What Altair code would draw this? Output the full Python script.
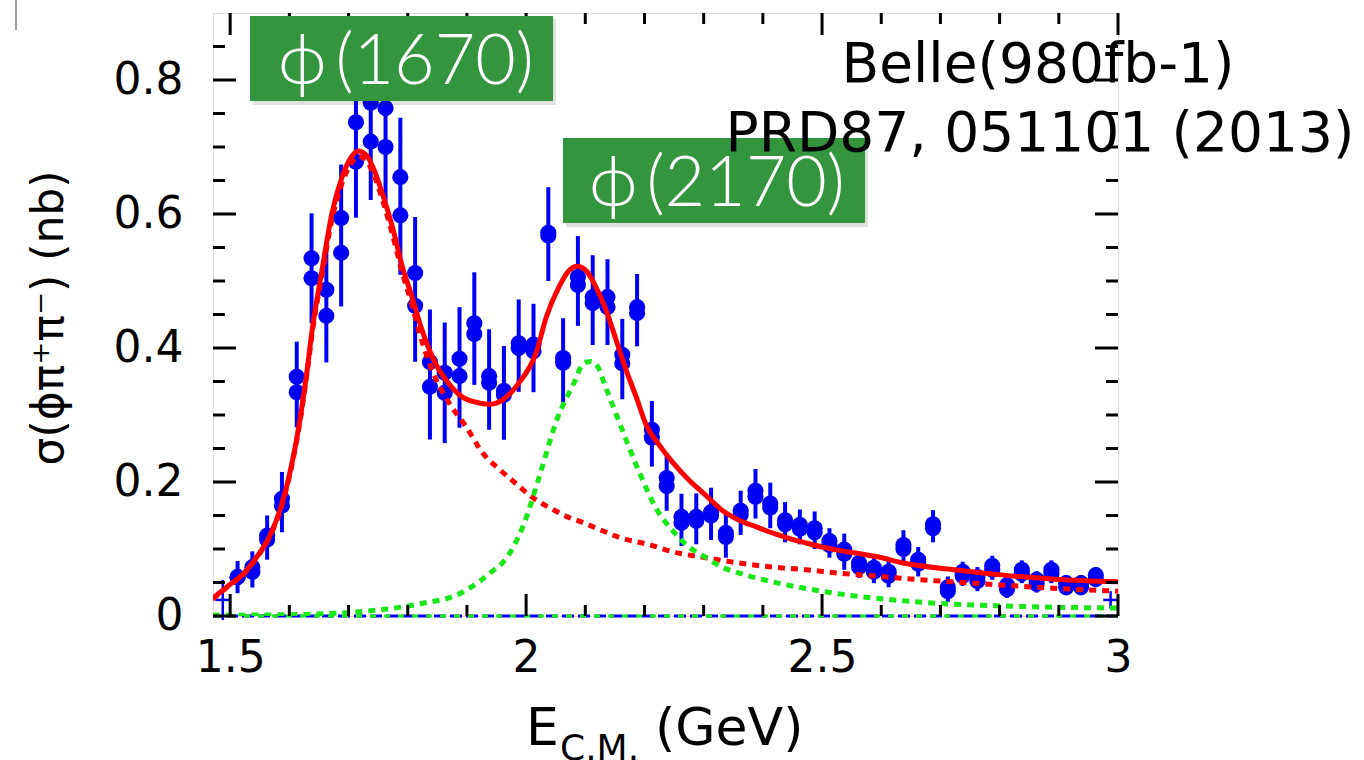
import altair as alt
import pandas as pd

# ---- measured cross section, e+e- -> phi pi+ pi- (Belle, ISR) ----
# bin centres in GeV
e_cm = [1.5125, 1.5375, 1.5625, 1.5875, 1.6125, 1.6375, 1.6625, 1.6875, 1.7125, 1.7375,
        1.7625, 1.7875, 1.8125, 1.8375, 1.8625, 1.8875, 1.9125, 1.9375, 1.9625, 1.9875,
        2.0125, 2.0375, 2.0625, 2.0875, 2.1125, 2.1375, 2.1625, 2.1875, 2.2125, 2.2375,
        2.2625, 2.2875, 2.3125, 2.3375, 2.3625, 2.3875, 2.4125, 2.4375, 2.4625, 2.4875,
        2.5125, 2.5375, 2.5625, 2.5875, 2.6125, 2.6375, 2.6625, 2.6875, 2.7125, 2.7375,
        2.7625, 2.7875, 2.8125, 2.8375, 2.8625, 2.8875, 2.9125, 2.9375, 2.9625]
# each bin carries two overlapping markers (upper / lower)
sigma_up = [0.058, 0.073, 0.120, 0.175, 0.357, 0.534, 0.487, 0.594, 0.737, 0.766,
            0.758, 0.655, 0.512, 0.379, 0.363, 0.384, 0.437, 0.358, 0.336, 0.407,
            0.405, 0.572, 0.385, 0.506, 0.476, 0.476, 0.390, 0.461, 0.278, 0.206,
            0.148, 0.148, 0.155, 0.124, 0.157, 0.187, 0.168, 0.143, 0.136, 0.131,
            0.112, 0.099, 0.079, 0.072, 0.066, 0.106, 0.084, 0.137, 0.043, 0.066,
            0.058, 0.075, 0.046, 0.069, 0.054, 0.069, 0.049, 0.049, 0.061]
sigma_dn = [0.058, 0.066, 0.114, 0.165, 0.334, 0.504, 0.448, 0.542, 0.678, 0.708,
            0.700, 0.598, 0.463, 0.342, 0.333, 0.358, 0.421, 0.348, 0.330, 0.400,
            0.395, 0.568, 0.378, 0.494, 0.467, 0.461, 0.377, 0.452, 0.266, 0.194,
            0.139, 0.142, 0.150, 0.118, 0.151, 0.178, 0.162, 0.137, 0.130, 0.125,
            0.106, 0.093, 0.073, 0.066, 0.060, 0.100, 0.078, 0.131, 0.037, 0.060,
            0.052, 0.069, 0.040, 0.063, 0.048, 0.063, 0.043, 0.043, 0.055]
sigma_err = [0.024, 0.027, 0.033, 0.045, 0.064, 0.082, 0.089, 0.106, 0.113, 0.116,
             0.110, 0.117, 0.108, 0.097, 0.090, 0.090, 0.084, 0.075, 0.070, 0.069,
             0.066, 0.070, 0.063, 0.067, 0.067, 0.064, 0.060, 0.054, 0.049, 0.043,
             0.039, 0.038, 0.039, 0.034, 0.033, 0.037, 0.034, 0.030, 0.026, 0.028,
             0.022, 0.027, 0.019, 0.020, 0.020, 0.025, 0.022, 0.024, 0.019, 0.018,
             0.018, 0.018, 0.016, 0.017, 0.016, 0.017, 0.015, 0.015, 0.015]

# first and last bins, shown as plain crosses
edge_e = [1.4875, 2.9875]
edge_sigma = [0.024, 0.024]
edge_err = [0.030, 0.013]
half_bin = 0.0125

# ---- fit curves ----
fit_e = [1.470, 1.498, 1.520, 1.544, 1.566, 1.586, 1.603, 1.617, 1.630, 1.639,
         1.655, 1.672, 1.689, 1.704, 1.716, 1.730, 1.743, 1.757, 1.774, 1.791,
         1.807, 1.824, 1.848, 1.865, 1.892, 1.921, 1.938, 1.959, 1.988, 2.017,
         2.034, 2.056, 2.073, 2.086, 2.101, 2.118, 2.135, 2.152, 2.169, 2.186,
         2.203, 2.225, 2.247, 2.275, 2.300, 2.331, 2.360, 2.389, 2.416, 2.444,
         2.473, 2.500, 2.529, 2.557, 2.596, 2.637, 2.723, 2.807, 2.894, 3.000]
fit_total = [0.026, 0.046, 0.061, 0.087, 0.118, 0.163, 0.222, 0.288, 0.367, 0.430,
             0.515, 0.601, 0.655, 0.684, 0.694, 0.688, 0.666, 0.631, 0.581, 0.521,
             0.477, 0.427, 0.375, 0.352, 0.327, 0.318, 0.316, 0.322, 0.348, 0.393,
             0.446, 0.492, 0.516, 0.522, 0.516, 0.491, 0.457, 0.412, 0.367, 0.327,
             0.285, 0.255, 0.230, 0.203, 0.183, 0.158, 0.143, 0.133, 0.124, 0.116,
             0.109, 0.103, 0.098, 0.094, 0.088, 0.079, 0.069, 0.061, 0.055, 0.051]

phi1670_e = [1.470, 1.498, 1.520, 1.544, 1.566, 1.586, 1.603, 1.617, 1.630, 1.639,
             1.655, 1.672, 1.689, 1.704, 1.716, 1.730, 1.743, 1.757, 1.774, 1.791,
             1.807, 1.819, 1.841, 1.870, 1.899, 1.927, 1.956, 1.985, 2.012, 2.041,
             2.070, 2.097, 2.127, 2.155, 2.210, 2.247, 2.304, 2.360, 2.416, 2.473,
             2.529, 2.586, 2.637, 2.720, 2.807, 2.900, 3.000]
phi1670 = [0.025, 0.045, 0.060, 0.086, 0.117, 0.161, 0.220, 0.285, 0.363, 0.425,
           0.508, 0.592, 0.646, 0.675, 0.686, 0.680, 0.658, 0.622, 0.570, 0.512,
           0.465, 0.425, 0.367, 0.318, 0.282, 0.243, 0.218, 0.196, 0.176, 0.161,
           0.148, 0.139, 0.128, 0.118, 0.106, 0.096, 0.087, 0.079, 0.073, 0.069,
           0.064, 0.060, 0.056, 0.051, 0.046, 0.041, 0.037]

phi2170_e = [1.470, 1.600, 1.713, 1.826, 1.882, 1.939, 1.968, 1.997, 2.024, 2.052,
             2.081, 2.096, 2.108, 2.118, 2.135, 2.157, 2.191, 2.220, 2.247, 2.275,
             2.304, 2.331, 2.360, 2.416, 2.473, 2.529, 2.596, 2.694, 2.807, 2.900,
             3.000]
phi2170 = [0.001, 0.002, 0.006, 0.019, 0.031, 0.064, 0.088, 0.139, 0.213, 0.293,
           0.348, 0.376, 0.380, 0.376, 0.340, 0.290, 0.215, 0.160, 0.128, 0.103,
           0.087, 0.073, 0.064, 0.051, 0.041, 0.033, 0.026, 0.019, 0.015, 0.013,
           0.012]

# ---- frame ticks ----
x_major = [1.5, 2.0, 2.5, 3.0]
x_minor = [1.6, 1.7, 1.8, 1.9, 2.1, 2.2, 2.3, 2.4, 2.6, 2.7, 2.8, 2.9]
y_major = [0.0, 0.2, 0.4, 0.6, 0.8]
y_minor = [0.05, 0.1, 0.15, 0.25, 0.3, 0.35, 0.45, 0.5, 0.55, 0.65, 0.7, 0.75, 0.85]

W, H = 905, 603
BLUE = "#0000f5"
RED = "#ff0000"
GREEN = "#18e818"
BOX_GREEN = "#33963f"
FONT = "DejaVu Sans"

x_scale = alt.Scale(domain=[1.471, 3.0], nice=False, zero=False)
y_scale = alt.Scale(domain=[0, 0.9], nice=False, zero=False)
x_axis = alt.Axis(values=x_major, format="~g", labelFont=FONT, labelFontSize=44,
                  labelColor="black", labelPadding=20, ticks=False, domain=False,
                  grid=False, title=None, labelFlush=False)
y_axis = alt.Axis(values=y_major, format="~g", labelFont=FONT, labelFontSize=44,
                  labelColor="black", labelPadding=30, ticks=False, domain=False,
                  grid=False, title=None, labelFlush=False)


def X(field):
    return alt.X(field, type="quantitative", scale=x_scale, axis=x_axis)


def Y(field):
    return alt.Y(field, type="quantitative", scale=y_scale, axis=y_axis)


pts = pd.DataFrame({"e": e_cm, "up": sigma_up, "dn": sigma_dn, "err": sigma_err})
pts["mid"] = (pts["up"] + pts["dn"]) / 2
pts["lo"] = pts["mid"] - pts["err"]
pts["hi"] = pts["mid"] + pts["err"]

edges = pd.DataFrame({"e": edge_e, "s": edge_sigma, "err": edge_err})
edges["lo"] = edges["s"] - edges["err"]
edges["hi"] = edges["s"] + edges["err"]
edges["e0"] = (edges["e"] - half_bin).clip(lower=1.471)
edges["e1"] = (edges["e"] + half_bin).clip(upper=3.0)

fit_df = pd.DataFrame({"e": fit_e, "s": fit_total})
p1_df = pd.DataFrame({"e": phi1670_e, "s": phi1670})
p2_df = pd.DataFrame({"e": phi2170_e, "s": phi2170})
one = pd.DataFrame({"k": [0]})

errbars = alt.Chart(pts).mark_rule(color=BLUE, strokeWidth=4).encode(
    x=X("e"), y=Y("lo"), y2="hi")
dots_up = alt.Chart(pts).mark_circle(color=BLUE, size=260, opacity=1).encode(
    x=X("e"), y=Y("up"))
dots_dn = alt.Chart(pts).mark_circle(color=BLUE, size=260, opacity=1).encode(
    x=X("e"), y=Y("dn"))
edge_v = alt.Chart(edges).mark_rule(color=BLUE, strokeWidth=2.5).encode(
    x=X("e"), y=Y("lo"), y2="hi")
edge_h = alt.Chart(edges).mark_rule(color=BLUE, strokeWidth=2.5).encode(
    x=X("e0"), x2="e1", y=Y("s"))

zero_df = pd.DataFrame({"z": [0.0]})
base_blue = alt.Chart(zero_df).mark_rule(color=BLUE, strokeWidth=3,
                                         strokeDash=[12, 4]).encode(y=Y("z"))
base_green = alt.Chart(zero_df).mark_rule(color=GREEN, strokeWidth=3,
                                          strokeDash=[6, 8]).encode(y=Y("z"))

line_p1 = alt.Chart(p1_df).mark_line(color=RED, strokeWidth=5, strokeDash=[7, 6],
                                     interpolate="monotone", clip=True).encode(
    x=X("e"), y=Y("s"))
line_p2 = alt.Chart(p2_df).mark_line(color=GREEN, strokeWidth=5, strokeDash=[7, 6],
                                     interpolate="monotone", clip=True).encode(
    x=X("e"), y=Y("s"))
line_fit = alt.Chart(fit_df).mark_line(color=RED, strokeWidth=5,
                                       interpolate="monotone", clip=True).encode(
    x=X("e"), y=Y("s"))


# inward ticks on all four sides of the frame
def xticks(vals, length):
    d = pd.DataFrame({"t": vals})
    bottom = alt.Chart(d).mark_rule(color="black", strokeWidth=3).encode(
        x=X("t"), y=alt.value(H), y2=alt.value(H - length))
    top = alt.Chart(d).mark_rule(color="black", strokeWidth=3).encode(
        x=X("t"), y=alt.value(0), y2=alt.value(length))
    return [bottom, top]


def yticks(vals, length):
    d = pd.DataFrame({"t": vals})
    left = alt.Chart(d).mark_rule(color="black", strokeWidth=3).encode(
        y=Y("t"), x=alt.value(0), x2=alt.value(length))
    right = alt.Chart(d).mark_rule(color="black", strokeWidth=3).encode(
        y=Y("t"), x=alt.value(W), x2=alt.value(W - length))
    return [left, right]


ticks = xticks(x_major, 22) + xticks(x_minor, 11) + yticks(y_major, 23) + yticks(y_minor, 12)


# green resonance tags
def tag(x0, x1, y0, y1, label, tx, ty):
    shadow = alt.Chart(one).mark_rect(color="black", opacity=0.12).encode(
        x=alt.value(x0 + 3), x2=alt.value(x1 + 3), y=alt.value(y0 + 3), y2=alt.value(y1 + 4))
    box = alt.Chart(one).mark_rect(color=BOX_GREEN, opacity=1).encode(
        x=alt.value(x0), x2=alt.value(x1), y=alt.value(y0), y2=alt.value(y1))
    txt = alt.Chart(one).mark_text(text=label, font="Lato", fontWeight=300, fontSize=70,
                                   color="white", align="center", baseline="alphabetic").encode(
        x=alt.value(tx), y=alt.value(ty))
    return [shadow, box, txt]


tags = (tag(37, 340, 3, 88, "ϕ\u2009(1670)", 193, 71)
        + tag(350, 652, 125, 210, "ϕ\u2009(2170)", 504, 193))

ref1 = alt.Chart(one).mark_text(text="Belle(980fb-1)", font=FONT, fontSize=55,
                                color="black", align="center", baseline="alphabetic").encode(
    x=alt.value(825), y=alt.value(69))
ref2 = alt.Chart(one).mark_text(text="PRD87, 051101 (2013)", font=FONT, fontSize=55,
                                color="black", align="center", baseline="alphabetic").encode(
    x=alt.value(827), y=alt.value(138))

# axis titles
ytitle = alt.Chart(one).mark_text(text="σ(ϕπ⁺π⁻) (nb)", font=FONT, fontSize=44, angle=270,
                                  color="black", align="center", baseline="middle").encode(
    x=alt.value(-163), y=alt.value(305))
xt_e = alt.Chart(one).mark_text(text="E", font=FONT, fontSize=52, color="black",
                                align="left", baseline="alphabetic").encode(
    x=alt.value(313), y=alt.value(732))
xt_sub = alt.Chart(one).mark_text(text="C.M.", font=FONT, fontSize=36, color="black",
                                  align="left", baseline="alphabetic").encode(
    x=alt.value(347), y=alt.value(747))
xt_unit = alt.Chart(one).mark_text(text="(GeV)", font=FONT, fontSize=52, color="black",
                                   align="left", baseline="alphabetic").encode(
    x=alt.value(442), y=alt.value(732))

corner = alt.Chart(one).mark_rule(color="#9a9a9a", strokeWidth=2).encode(
    x=alt.value(-197), y=alt.value(-13), y2=alt.value(17))

chart = alt.layer(
    errbars, dots_up, dots_dn, edge_v, edge_h,
    base_blue, base_green,
    line_p1, line_p2, line_fit,
    *ticks,
    *tags,
    ref1, ref2, ytitle, xt_e, xt_sub, xt_unit, corner,
).properties(
    width=W, height=H,
    autosize=alt.AutoSizeParams(type="none"),
    padding={"left": 213, "top": 13, "right": 246, "bottom": 144},
).configure_view(
    stroke="black", strokeWidth=3
).configure(background="white")

chart.save("out.html", embed_options={"renderer": "svg", "actions": False})
